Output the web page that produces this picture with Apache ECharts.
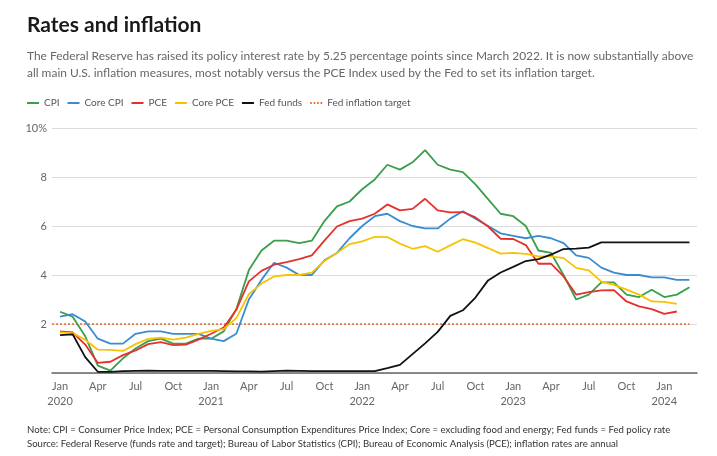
<!DOCTYPE html>
<html>
<head>
<meta charset="utf-8">
<script src="https://cdn.jsdelivr.net/npm/echarts@6/dist/echarts.min.js"></script>
<style>
html,body{margin:0;padding:0;background:#fff;}
#chart{width:717px;height:456px;}
</style>
</head>
<body>
<div id="chart"></div>
<script>
// Months from Jan 2020 (index 0) to Mar 2024 (index 50)
const months = [];
['2020','2021','2022','2023','2024'].forEach(y => {
  ['Jan','Feb','Mar','Apr','May','Jun','Jul','Aug','Sep','Oct','Nov','Dec'].forEach(m => months.push(m + ' ' + y));
});
months.length = 51;

const tickMonths = [0,3,6,9,12,15,18,21,24,27,30,33,36,39,42,45,48];
const tickLabels = ['Jan\n2020','Apr','Jul','Oct','Jan\n2021','Apr','Jul','Oct','Jan\n2022','Apr','Jul','Oct','Jan\n2023','Apr','Jul','Oct','Jan\n2024'];

const cpi = [2.5,2.3,1.5,0.3,0.1,0.6,1.0,1.3,1.4,1.2,1.2,1.4,
  1.4,1.7,2.6,4.2,5.0,5.4,5.4,5.3,5.4,6.2,6.8,7.0,
  7.5,7.9,8.5,8.3,8.6,9.1,8.5,8.3,8.2,7.7,7.1,6.5,
  6.4,6.0,5.0,4.9,4.0,3.0,3.2,3.7,3.7,3.2,3.1,3.4,
  3.1,3.2,3.5];
const coreCpi = [2.3,2.4,2.1,1.4,1.2,1.2,1.6,1.7,1.7,1.6,1.6,1.6,
  1.4,1.3,1.6,3.0,3.8,4.5,4.3,4.0,4.0,4.6,4.9,5.5,
  6.0,6.4,6.5,6.2,6.0,5.9,5.9,6.3,6.6,6.3,6.0,5.7,
  5.6,5.5,5.6,5.5,5.3,4.8,4.7,4.3,4.1,4.0,4.0,3.9,
  3.9,3.8,3.8];
const pce = [1.7,1.66,1.16,0.41,0.46,0.73,0.92,1.18,1.26,1.14,1.16,1.36,
  1.6,1.86,2.58,3.74,4.17,4.42,4.53,4.65,4.8,5.4,5.98,6.2,
  6.3,6.5,6.88,6.64,6.7,7.11,6.64,6.56,6.57,6.35,5.98,5.48,
  5.47,5.22,4.46,4.46,3.94,3.2,3.3,3.37,3.38,2.92,2.72,2.61,
  2.41,2.51];
const corePce = [1.66,1.63,1.36,0.95,0.94,0.9,1.18,1.39,1.44,1.36,1.44,1.6,
  1.72,1.79,2.24,3.22,3.65,3.94,4.0,4.0,4.1,4.57,4.9,5.26,
  5.37,5.56,5.55,5.28,5.07,5.18,4.95,5.21,5.46,5.32,5.1,4.87,
  4.9,4.86,4.76,4.76,4.69,4.29,4.19,3.73,3.6,3.4,3.2,2.92,
  2.9,2.82];
const fedFunds = [1.55,1.58,0.65,0.05,0.05,0.08,0.09,0.10,0.09,0.09,0.09,0.09,
  0.09,0.08,0.07,0.07,0.06,0.08,0.10,0.09,0.08,0.08,0.08,0.08,
  0.08,0.08,0.20,0.33,0.77,1.21,1.68,2.33,2.56,3.08,3.78,4.10,
  4.33,4.57,4.65,4.83,5.06,5.08,5.12,5.33,5.33,5.33,5.33,5.33,
  5.33,5.33,5.33];
const targetRate = 2;
const yTicks = [0,2,4,6,8,10];

const xMin = -0.64, xMax = 50.6;
const toPts = arr => arr.map((v, i) => [i, v]);

const chart = echarts.init(document.getElementById('chart'), null, {renderer: 'canvas'});
const FONT = 'Lato';
const mk = (name, data, color, extra) => Object.assign({
  name, type: 'line', data: toPts(data), symbol: 'none', showSymbol: false,
  lineStyle: {color, width: 1.8}, itemStyle: {color}, animation: false, z: 3
}, extra || {});
const dotsIcon = 'path://M0,0h1.6v2h-1.6z M3.5,0h1.6v2h-1.6z M7,0h1.6v2h-1.6z M10.4,0h1.6v2h-1.6z';

chart.setOption({
  animation: false,
  textStyle: {fontFamily: FONT},
  title: [
    {text: 'Rates and inflation', left: 27, top: 15, padding: 0,
     textStyle: {fontFamily: FONT, fontSize: 21, fontWeight: 'bold', color: '#1a1a1a'}},
    {text: 'The Federal Reserve has raised its policy interest rate by 5.25 percentage points since March 2022. It is now substantially above\nall main U.S. inflation measures, most notably versus the PCE Index used by the Fed to set its inflation target.',
     left: 27, top: 48, padding: 0,
     textStyle: {fontFamily: FONT, fontSize: 11.95, fontWeight: 'normal', color: '#666', lineHeight: 16.6}},
    {text: 'Note: CPI = Consumer Price Index; PCE = Personal Consumption Expenditures Price Index; Core = excluding food and energy; Fed funds = Fed policy rate\nSource: Federal Reserve (funds rate and target); Bureau of Labor Statistics (CPI); Bureau of Economic Analysis (PCE); inflation rates are annual',
     left: 27, top: 423, padding: 0,
     textStyle: {fontFamily: FONT, fontSize: 9.6, fontWeight: 'normal', color: '#333', lineHeight: 14}}
  ],
  legend: {
    left: 27, top: 98, padding: 0, itemWidth: 12, itemHeight: 2, itemGap: 8,
    icon: 'rect',
    textStyle: {fontFamily: FONT, fontSize: 10, color: '#555'},
    data: ['CPI','Core CPI','PCE','Core PCE','Fed funds',{name: 'Fed inflation target', icon: dotsIcon}]
  },
  grid: {left: 52, right: 20, top: 128, bottom: 83, containLabel: false},
  xAxis: {
    type: 'value', min: xMin, max: xMax,
    splitLine: {show: false},
    axisTick: {show: false},
    axisLine: {show: true, onZero: true, lineStyle: {color: '#666', width: 1.5}},
    axisLabel: {
      customValues: tickMonths,
      formatter: v => tickLabels[tickMonths.indexOf(Math.round(v))] || '',
      color: '#666', fontFamily: FONT, fontSize: 11, lineHeight: 15, margin: 6
    }
  },
  yAxis: {
    type: 'value', min: yTicks[0], max: yTicks[yTicks.length - 1], interval: 2,
    axisLine: {show: false}, axisTick: {show: false},
    splitLine: {lineStyle: {color: '#dcdcdc', width: 1}},
    axisLabel: {
      formatter: v => v === 0 ? '' : (v === 10 ? v + '%' : String(v)),
      color: '#666', fontFamily: FONT, fontSize: 11, margin: 5
    }
  },
  series: [
    mk('Fed inflation target', [], '#f26522', {
      data: [[xMin, targetRate], [50, targetRate]],
      lineStyle: {color: '#f26522', width: 1.5, type: [2, 2]}, z: 2
    }),
    mk('CPI', cpi, '#3a9e4a'),
    mk('Core CPI', coreCpi, '#3a8ccf'),
    mk('PCE', pce, '#e5312e'),
    mk('Core PCE', corePce, '#f7c300'),
    mk('Fed funds', fedFunds, '#111111')
  ]
});
</script>
</body>
</html>
